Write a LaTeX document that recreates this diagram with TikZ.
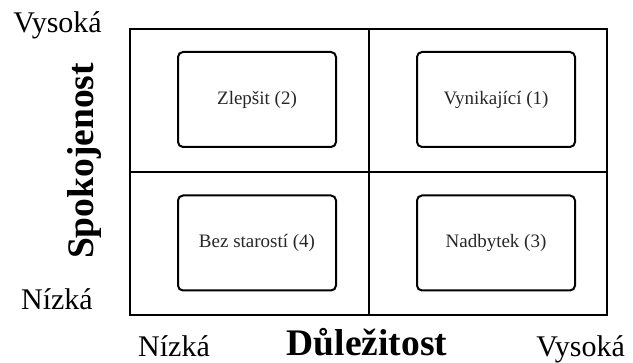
\documentclass[tikz,border=0pt]{standalone}
\usepackage{fontspec}
\setmainfont{Liberation Serif}
\usetikzlibrary{positioning}

\begin{document}
\begin{tikzpicture}[
        x=1pt, y=-1pt,
        grid/.style={draw, line width=2pt, minimum width=477pt, minimum height=286pt, inner sep=0pt},
        cell/.style={draw, line width=2pt, rounded corners=5pt, minimum width=158pt, minimum height=95pt, font=\fontsize{19}{21}\selectfont, text=black!85},
        level/.style={font=\fontsize{30}{32}\selectfont, inner sep=0pt},
        axis/.style={font=\fontsize{37.5}{40}\selectfont\bfseries, inner sep=0pt}
    ]
        \useasboundingbox (0,0) rectangle (633,363);

        % outer frame split into four quadrants
        \node[grid] (frame) at (368.5,172) {};
        \draw[line width=2pt] (frame.north) -- (frame.south);
        \draw[line width=2pt] (frame.west) -- (frame.east);

        % quadrant boxes
        \node[cell] (improve) at (257,99.5) {Zlepšit (2)};
        \node[cell] (excellent) at (496,99.5) {Vynikající (1)};
        \node[cell] (nocare) at (257,243) {Bez starostí (4)};
        \node[cell] (surplus) at (496,243) {Nadbytek (3)};

        % vertical axis
        \node[level, anchor=base east] (yhigh) at (102,33) {Vysoká};
        \node[level, anchor=base east] (ylow) at (93,310) {Nízká};
        \node[axis, rotate=90, anchor=base] (ytitle) at (93,161) {Spokojenost};

        % horizontal axis
        \node[level, anchor=base west] (xlow) at (138,357) {Nízká};
        \node[axis, anchor=base] (xtitle) at (367,356) {Důležitost};
        \node[level, anchor=base east] (xhigh) at (625,357) {Vysoká};
    \end{tikzpicture}
\end{document}
